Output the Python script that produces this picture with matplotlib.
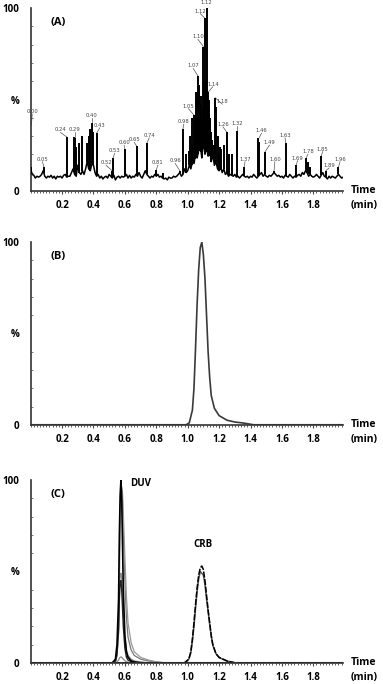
import matplotlib
matplotlib.use('Agg')
import matplotlib.pyplot as plt
from matplotlib.ticker import MultipleLocator
import numpy as np

plt.rcParams['font.family'] = ['Open Sans', 'DejaVu Sans']

# ---- panel A: noisy chromatogram ----
a_base_step = 0.01
a_baseline = [
    12, 9, 8.5, 7, 8, 7.5, 8, 9, 11, 8, 7, 8, 7.5, 8.5, 7, 8, 6.5, 8, 7.5, 8,
    7, 8.5, 9, 7.5, 8, 8, 10, 12, 9, 8, 14, 10, 9, 11, 9, 12, 16, 12, 11, 15,
    14, 10, 8, 9, 7, 8, 6.5, 7.5, 8, 7, 9, 8, 7, 8.5, 6, 7.5, 8, 7, 8, 7.5,
    8, 9, 7, 8.5, 7, 8, 7.5, 9, 8, 10, 8, 7, 9, 11, 9, 8, 7, 8, 7.5, 9,
    8, 9, 7.5, 8, 7, 6.5, 7, 6, 7.5, 7, 7, 8, 7.5, 8, 9, 10, 8, 9, 12, 10,
    11, 14, 12, 16, 15, 20, 18, 22, 25, 18, 28, 20, 24, 19, 22, 16, 20, 14, 16, 12,
    11, 13, 10, 12, 9, 10, 8, 9, 8.5, 8, 9, 7.5, 8, 7, 8, 9, 8, 7.5, 8, 7,
    8, 7.5, 9, 8, 7, 8, 9, 10, 8, 9, 8, 7.5, 8.5, 8, 9, 10, 9, 8, 8.5, 7.5,
    8, 7, 8.5, 8, 7.5, 9, 8, 7, 8, 7.5, 8.5, 9, 8, 10, 9, 11, 10, 8, 9, 8,
    7.5, 8, 9, 8, 7, 8.5, 10, 8, 7.5, 6.5, 8, 7, 8, 7.5, 7, 8, 9, 8, 7, 7.5,
]
a_spike_t = [0.005, 0.085, 0.23, 0.275, 0.285, 0.29, 0.31, 0.33, 0.36, 0.37, 0.38,
             0.39, 0.40, 0.42, 0.52, 0.525, 0.60, 0.675, 0.74, 0.80, 0.84, 0.95,
             0.97, 0.99, 1.01, 1.015, 1.025, 1.03, 1.04, 1.045, 1.05, 1.055, 1.06,
             1.065, 1.07, 1.075, 1.08, 1.085, 1.09, 1.095, 1.10, 1.105, 1.11,
             1.115, 1.12, 1.125, 1.13, 1.135, 1.14, 1.145, 1.15, 1.155, 1.165,
             1.175, 1.18, 1.19, 1.20, 1.205, 1.215, 1.23, 1.25, 1.265, 1.28,
             1.315, 1.36, 1.45, 1.455, 1.49, 1.55, 1.625, 1.69, 1.755, 1.765,
             1.78, 1.85, 1.88, 1.96]
a_spike_h = [13, 13, 29.5, 29.5, 29, 24, 26, 30, 26, 30, 34,
             37, 32, 31.5, 11, 18, 23, 24.5, 26, 11.5, 10, 11,
             34, 20, 22, 30, 25, 40, 41.5, 38, 54, 50, 52,
             63, 55, 58, 48, 52, 40, 45, 79, 60, 94.5,
             60, 100, 45, 54, 50, 40, 35, 32, 28, 25,
             51, 46, 30, 20, 24, 23, 25, 32, 20, 20,
             33, 13, 29, 27, 21, 11, 26, 14, 18, 16,
             13, 19, 11, 13]

# peak labels: text, label position, peak top it points to
a_lab_text = ['0.00', '0.05', '0.24', '0.29', '0.40', '0.43', '0.52', '0.53', '0.60',
              '0.65', '0.74', '0.81', '0.96', '0.98', '1.05', '1.07', '1.10', '1.12',
              '1.12', '1.14', '1.18', '1.26', '1.32', '1.37', '1.46', '1.49', '1.60',
              '1.63', '1.69', '1.78', '1.85', '1.89', '1.96']
a_lab_t = [0.01, 0.075, 0.19, 0.28, 0.39, 0.44, 0.48, 0.535, 0.595,
           0.66, 0.755, 0.81, 0.92, 0.975, 1.005, 1.035, 1.065, 1.12,
           1.08, 1.16, 1.22, 1.225, 1.315, 1.365, 1.47, 1.52, 1.555,
           1.62, 1.70, 1.765, 1.86, 1.9, 1.97]
a_lab_v = [42, 16, 32, 32, 40, 34.5, 14, 20.5, 25,
           26.5, 29, 14, 15, 36.5, 45, 67, 83, 102,
           97, 57, 47.5, 35, 35.5, 16, 31.5, 25, 16,
           29, 16.5, 20, 21.5, 12.5, 16]
a_pk_t = [0.005, 0.085, 0.23, 0.28, 0.39, 0.42, 0.52, 0.525, 0.60,
          0.675, 0.74, 0.80, 0.95, 0.97, 1.04, 1.065, 1.10, 1.12,
          1.11, 1.13, 1.175, 1.25, 1.315, 1.36, 1.455, 1.49, 1.55,
          1.625, 1.69, 1.755, 1.85, 1.88, 1.96]
a_pk_v = [36, 13, 29.5, 29.5, 37, 31.5, 11, 18, 23,
          24.5, 26, 11.5, 11, 34, 41.5, 63, 79, 100,
          94.5, 54, 51, 32, 33, 13, 29, 21, 11,
          26, 14, 18, 19, 11, 13]

# ---- panel B: single peak ----
b_t = [0.0, 0.99, 1.01, 1.03, 1.04, 1.05, 1.06, 1.07, 1.08, 1.09, 1.10, 1.11,
       1.12, 1.13, 1.14, 1.15, 1.17, 1.20, 1.25, 1.30, 1.35, 1.42, 2.0]
b_v = [0, 0, 1, 8, 20, 42, 66, 85, 97, 100, 93, 80,
       60, 40, 26, 16, 9, 5, 2.5, 1.5, 1, 0, 0]

# ---- panel C: DUV and CRB traces ----
duv_t = [0.0, 0.52, 0.54, 0.55, 0.56, 0.565, 0.57, 0.575, 0.58, 0.585, 0.59,
         0.60, 0.61, 0.62, 0.64, 0.66, 0.70, 0.75, 0.80, 0.85, 2.0]
duv_black = [0, 0, 2, 10, 35, 70, 92, 100, 90, 65, 40, 15, 6, 3, 1, 0.5, 0, 0, 0, 0, 0]
duv_gray1 = [0, 0, 1, 6, 25, 58, 85, 96, 96, 88, 72, 45, 25, 14, 7, 4, 2, 1, 0.5, 0, 0]
duv_gray2 = [0, 0, 0.5, 4, 16, 42, 72, 90, 95, 93, 82, 58, 36, 22, 11, 6, 3, 1.5, 0.5, 0, 0]
duv_mid1 = [0, 0, 1, 5, 18, 35, 44, 45, 40, 30, 20, 8, 3, 1.5, 0.5, 0, 0, 0, 0, 0, 0]
duv_mid2 = [0, 0, 1, 4, 20, 42, 48, 49, 46, 38, 28, 14, 7, 4, 2, 1, 0.5, 0, 0, 0, 0]
duv_small = [0, 0, 0, 0.5, 1.5, 2.5, 3, 3.2, 3, 2.5, 2, 1.2, 0.6, 0.3, 0, 0, 0, 0, 0, 0, 0]

crb_t = [0.0, 0.98, 1.00, 1.01, 1.02, 1.03, 1.04, 1.05, 1.06, 1.07, 1.08, 1.09,
         1.10, 1.11, 1.12, 1.13, 1.14, 1.15, 1.16, 1.18, 1.20, 1.25, 1.30, 2.0]
crb_a = [0, 0, 1.5, 3, 6, 13, 22, 32, 41, 48, 52, 53,
         51, 45, 37, 29, 22, 15, 10, 5, 3, 1, 0, 0]
crb_b = [0, 0, 1.2, 2.5, 5.5, 12, 20, 30, 39, 46, 50, 49,
         48, 43, 35, 28, 21, 14.5, 9.5, 5, 2.8, 1, 0, 0]

x_ticks = [0.2, 0.4, 0.6, 0.8, 1.0, 1.2, 1.4, 1.6, 1.8]
panel_names = ['(A)', '(B)', '(C)']


def style_axes(ax, name):
    ax.set_xlim(0, 1.99)
    ax.set_ylim(0, 100)
    for s in ['top', 'right']:
        ax.spines[s].set_visible(False)
    for s in ['left', 'bottom']:
        ax.spines[s].set_color('#333333')
        ax.spines[s].set_linewidth(1.2)
    ax.set_xticks(x_ticks)
    ax.set_xticklabels([f'{x:.1f}' for x in x_ticks], fontsize=7, fontweight='bold')
    ax.xaxis.set_minor_locator(MultipleLocator(0.02))
    ax.tick_params(axis='x', which='major', length=2.5, width=0.8, pad=4, color='#444444')
    ax.tick_params(axis='x', which='minor', length=1.5, width=0.6, color='#444444')
    ax.set_yticks([0, 50, 100])
    ax.set_yticklabels(['0', '%', '100'], fontsize=7, fontweight='bold')
    ax.yaxis.set_minor_locator(MultipleLocator(10))
    ax.tick_params(axis='y', which='major', length=0, pad=8)
    ax.tick_params(axis='y', which='minor', length=1.5, width=0.6, direction='in',
                   color='#666666')
    ax.text(0.065, 0.91, name, transform=ax.transAxes, fontsize=8, fontweight='bold')
    ax.text(1.025, 0.0, 'Time', transform=ax.transAxes, fontsize=7.5, fontweight='bold',
            ha='left', va='center')
    ax.text(1.025, -0.08, '(min)', transform=ax.transAxes, fontsize=7.5,
            fontweight='bold', ha='left', va='center')


fig = plt.figure(figsize=(3.83, 6.84), dpi=100)
ax_a = fig.add_axes([0.08, 0.721, 0.816, 0.267])
ax_b = fig.add_axes([0.08, 0.379, 0.816, 0.267])
ax_c = fig.add_axes([0.08, 0.031, 0.816, 0.267])

# panel A
base_t = np.arange(len(a_baseline)) * a_base_step
ax_a.plot(base_t, a_baseline, color='black', lw=1.1, zorder=3)
spike_base = np.interp(a_spike_t, base_t, a_baseline)
ax_a.vlines(a_spike_t, spike_base, a_spike_h, color='black', lw=1.4, zorder=3)
for txt, lt, lv, pt, pv in zip(a_lab_text, a_lab_t, a_lab_v, a_pk_t, a_pk_v):
    ax_a.text(lt, lv, txt, fontsize=3.8, color='#444444', ha='center', va='bottom',
              family='DejaVu Sans')
    ax_a.plot([lt, pt], [lv, pv], color='#555555', lw=0.5)
style_axes(ax_a, panel_names[0])

# panel B
ax_b.plot(b_t, b_v, color='#3a3a3a', lw=1.2)
style_axes(ax_b, panel_names[1])

# panel C
ax_c.plot(duv_t, duv_gray1, color='#777777', lw=0.9)
ax_c.plot(duv_t, duv_gray2, color='#999999', lw=0.9)
ax_c.plot(duv_t, duv_mid2, color='#888888', lw=0.9)
ax_c.plot(duv_t, duv_mid1, color='#222222', lw=1.0)
ax_c.plot(duv_t, duv_small, color='#888888', lw=0.9)
ax_c.plot(duv_t, duv_black, color='black', lw=1.2)
ax_c.plot(crb_t, crb_b, color='#555555', lw=1.1)
ax_c.plot(crb_t, crb_a, color='black', lw=1.1, ls=(0, (4, 1)))
ax_c.text(0.70, 98, 'DUV', fontsize=7, fontweight='bold', ha='center', va='center')
ax_c.text(1.10, 65, 'CRB', fontsize=7, fontweight='bold', ha='center', va='center')
style_axes(ax_c, panel_names[2])

fig.savefig('out.png', dpi=100)
